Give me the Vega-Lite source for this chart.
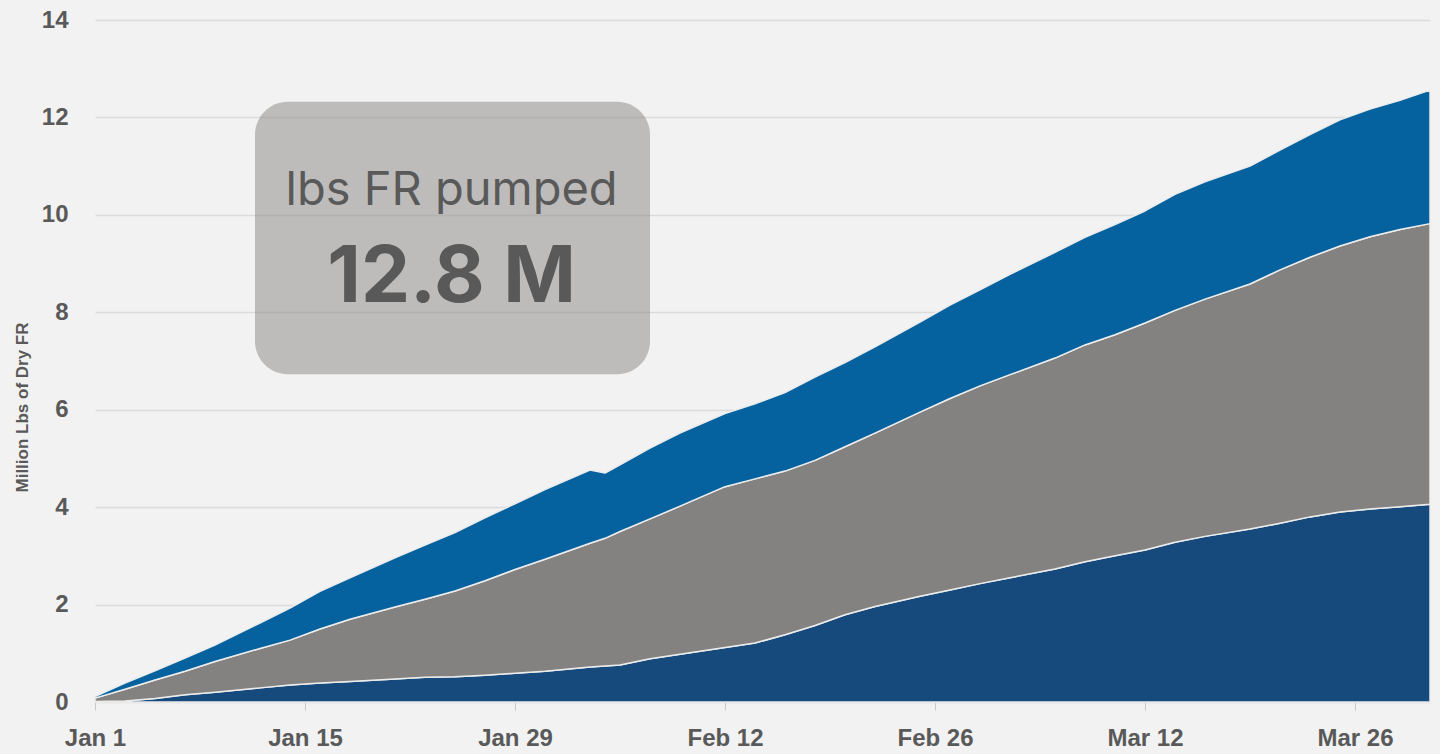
{
  "$schema": "https://vega.github.io/schema/vega-lite/v6.json",
  "width": 1335,
  "height": 682,
  "autosize": "none",
  "padding": {"left": 95, "top": 20, "right": 10, "bottom": 52},
  "background": "#f2f2f2",
  "config": {"view": {"stroke": null}, "font": "Liberation Sans"},
  "layer": [
    {
      "data": {
        "values": [
          {"date": "2023-01-01", "s1": 0.01, "s2": 0.07, "s3": 0.03},
          {"date": "2023-01-03", "s1": 0.02, "s2": 0.24, "s3": 0.13},
          {"date": "2023-01-05", "s1": 0.07, "s2": 0.38, "s3": 0.19},
          {"date": "2023-01-07", "s1": 0.15, "s2": 0.48, "s3": 0.27},
          {"date": "2023-01-09", "s1": 0.20, "s2": 0.63, "s3": 0.34},
          {"date": "2023-01-12", "s1": 0.29, "s2": 0.81, "s3": 0.52},
          {"date": "2023-01-14", "s1": 0.35, "s2": 0.92, "s3": 0.66},
          {"date": "2023-01-16", "s1": 0.39, "s2": 1.11, "s3": 0.77},
          {"date": "2023-01-18", "s1": 0.42, "s2": 1.28, "s3": 0.85},
          {"date": "2023-01-21", "s1": 0.47, "s2": 1.48, "s3": 1.01},
          {"date": "2023-01-23", "s1": 0.51, "s2": 1.60, "s3": 1.11},
          {"date": "2023-01-25", "s1": 0.52, "s2": 1.76, "s3": 1.20},
          {"date": "2023-01-27", "s1": 0.55, "s2": 1.94, "s3": 1.29},
          {"date": "2023-01-29", "s1": 0.59, "s2": 2.13, "s3": 1.35},
          {"date": "2023-01-31", "s1": 0.63, "s2": 2.30, "s3": 1.43},
          {"date": "2023-02-03", "s1": 0.72, "s2": 2.54, "s3": 1.50},
          {"date": "2023-02-04", "s1": 0.74, "s2": 2.62, "s3": 1.34},
          {"date": "2023-02-05", "s1": 0.76, "s2": 2.74, "s3": 1.37},
          {"date": "2023-02-07", "s1": 0.89, "s2": 2.87, "s3": 1.45},
          {"date": "2023-02-09", "s1": 0.98, "s2": 3.04, "s3": 1.50},
          {"date": "2023-02-12", "s1": 1.12, "s2": 3.30, "s3": 1.50},
          {"date": "2023-02-14", "s1": 1.21, "s2": 3.37, "s3": 1.54},
          {"date": "2023-02-16", "s1": 1.38, "s2": 3.36, "s3": 1.61},
          {"date": "2023-02-18", "s1": 1.57, "s2": 3.39, "s3": 1.71},
          {"date": "2023-02-20", "s1": 1.79, "s2": 3.45, "s3": 1.73},
          {"date": "2023-02-22", "s1": 1.96, "s2": 3.56, "s3": 1.77},
          {"date": "2023-02-25", "s1": 2.17, "s2": 3.78, "s3": 1.85},
          {"date": "2023-02-27", "s1": 2.30, "s2": 3.93, "s3": 1.92},
          {"date": "2023-03-01", "s1": 2.43, "s2": 4.06, "s3": 1.97},
          {"date": "2023-03-03", "s1": 2.55, "s2": 4.17, "s3": 2.06},
          {"date": "2023-03-06", "s1": 2.73, "s2": 4.33, "s3": 2.17},
          {"date": "2023-03-08", "s1": 2.88, "s2": 4.45, "s3": 2.21},
          {"date": "2023-03-10", "s1": 3.00, "s2": 4.54, "s3": 2.26},
          {"date": "2023-03-12", "s1": 3.12, "s2": 4.66, "s3": 2.30},
          {"date": "2023-03-14", "s1": 3.28, "s2": 4.76, "s3": 2.38},
          {"date": "2023-03-16", "s1": 3.40, "s2": 4.87, "s3": 2.41},
          {"date": "2023-03-19", "s1": 3.55, "s2": 5.03, "s3": 2.42},
          {"date": "2023-03-21", "s1": 3.67, "s2": 5.20, "s3": 2.46},
          {"date": "2023-03-23", "s1": 3.80, "s2": 5.33, "s3": 2.52},
          {"date": "2023-03-25", "s1": 3.90, "s2": 5.46, "s3": 2.59},
          {"date": "2023-03-27", "s1": 3.96, "s2": 5.59, "s3": 2.62},
          {"date": "2023-03-29", "s1": 4.01, "s2": 5.69, "s3": 2.65},
          {"date": "2023-03-31", "s1": 4.06, "s2": 5.76, "s3": 2.74}
        ],
        "format": {"parse": {"date": "date:'%Y-%m-%d'"}}
      },
      "transform": [{"fold": ["s1", "s2", "s3"], "as": ["series", "value"]}],
      "mark": {"type": "area", "stroke": "#ececec", "strokeWidth": 1.5, "strokeJoin": "round"},
      "encoding": {
        "x": {
          "field": "date",
          "type": "temporal",
          "scale": {"domain": [{"year": 2023, "month": 1, "date": 1}, {"year": 2023, "month": 3, "date": 31}], "nice": false},
          "axis": {
            "title": null,
            "values": [
              {"year": 2023, "month": 1, "date": 1},
              {"year": 2023, "month": 1, "date": 15},
              {"year": 2023, "month": 1, "date": 29},
              {"year": 2023, "month": 2, "date": 12},
              {"year": 2023, "month": 2, "date": 26},
              {"year": 2023, "month": 3, "date": 12},
              {"year": 2023, "month": 3, "date": 26}
            ],
            "format": "%b %-d",
            "labelFont": "Liberation Sans",
            "labelFontSize": 24,
            "labelFontWeight": "bold",
            "labelColor": "#595959",
            "labelPadding": 16,
            "labelFlush": false,
            "labelOverlap": false,
            "tickSize": 8,
            "tickColor": "#c8c8c8",
            "domain": false,
            "grid": false
          }
        },
        "y": {
          "field": "value",
          "type": "quantitative",
          "stack": "zero",
          "scale": {"domain": [0, 14], "nice": false},
          "axis": {
            "title": "Million Lbs of Dry FR",
            "values": [0, 2, 4, 6, 8, 10, 12, 14],
            "labelFont": "Liberation Sans",
            "labelFontSize": 24,
            "labelFontWeight": "bold",
            "labelColor": "#595959",
            "labelPadding": 27,
            "ticks": false,
            "domain": false,
            "gridColor": "#dcdcdc",
            "gridWidth": 1.5,
            "titleFont": "Liberation Sans",
            "titleFontSize": 17,
            "titleFontWeight": "bold",
            "titleColor": "#595959",
            "titleAngle": 270,
            "titleX": -73,
            "titleY": 387,
            "titleAlign": "center",
            "titleBaseline": "middle"
          }
        },
        "color": {
          "field": "series",
          "type": "nominal",
          "scale": {"domain": ["s1", "s2", "s3"], "range": ["#174a7c", "#838281", "#05629f"]},
          "legend": null
        },
        "order": {"field": "series", "sort": "ascending"}
      }
    },
    {
      "data": {"values": [{}]},
      "mark": {"type": "rect", "fill": "#878684", "opacity": 0.5, "cornerRadius": 33},
      "encoding": {
        "x": {"datum": {"year": 2023, "month": 1, "date": 11, "hours": 16}, "type": "temporal"},
        "x2": {"datum": {"year": 2023, "month": 2, "date": 7}},
        "y": {"datum": 12.32, "type": "quantitative"},
        "y2": {"datum": 6.73}
      }
    },
    {
      "data": {"values": [{}]},
      "mark": {"type": "text", "text": "lbs FR pumped", "font": "Inter", "fontSize": 47, "color": "#595959", "align": "center", "baseline": "alphabetic"},
      "encoding": {
        "x": {"datum": {"year": 2023, "month": 1, "date": 24, "hours": 18, "minutes": 30}, "type": "temporal"},
        "y": {"datum": 10.2, "type": "quantitative"}
      }
    },
    {
      "data": {"values": [{}]},
      "mark": {"type": "text", "text": "12.8 M", "font": "Inter", "fontSize": 78, "fontWeight": "bold", "color": "#595959", "align": "center", "baseline": "alphabetic"},
      "encoding": {
        "x": {"datum": {"year": 2023, "month": 1, "date": 24, "hours": 18, "minutes": 30}, "type": "temporal"},
        "y": {"datum": 8.21, "type": "quantitative"}
      }
    }
  ]
}
